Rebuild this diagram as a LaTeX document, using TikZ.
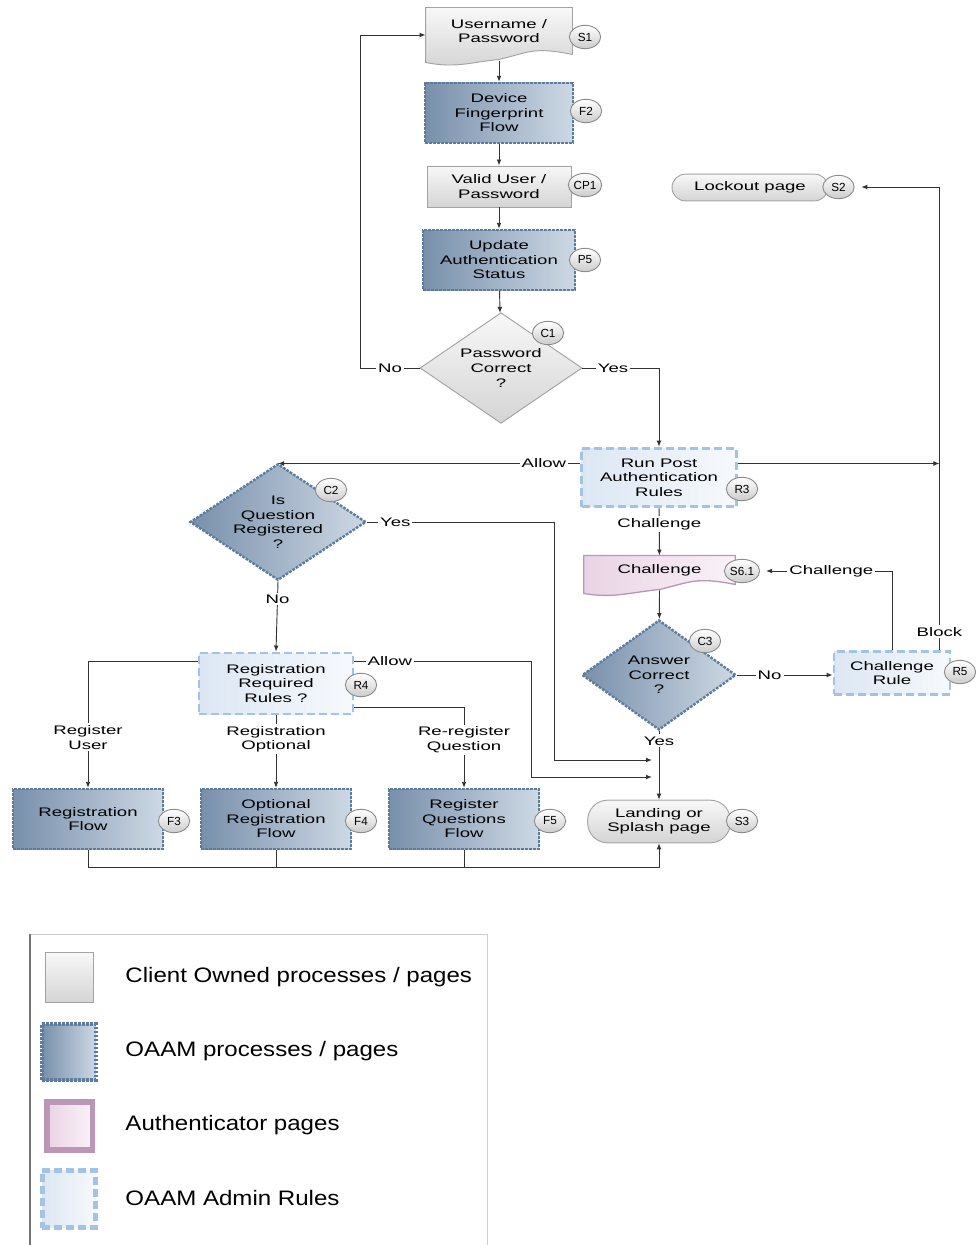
\documentclass[tikz,border=0pt]{standalone}
\usepackage{fontspec}
\setmainfont{Liberation Sans}[FakeStretch=1.5]
\newfontfamily\tagfont{Liberation Sans}[FakeStretch=1.0]
\newfontfamily\legendfont{Liberation Sans}[FakeStretch=1.15]
\usetikzlibrary{calc}
\usetikzlibrary{arrows.meta}
\usetikzlibrary{shapes.geometric}
\usetikzlibrary{backgrounds}

\definecolor{clientedge}{HTML}{A3A3A3}
\definecolor{clienttop}{HTML}{F8F8F8}
\definecolor{clientbot}{HTML}{D4D4D4}
\definecolor{oaamedge}{HTML}{5C7C9E}
\definecolor{oaamdark}{HTML}{7890AB}
\definecolor{oaamlight}{HTML}{CDD8E4}
\definecolor{adminedge}{HTML}{A2C3E4}
\definecolor{admindark}{HTML}{DCE7F3}
\definecolor{adminlight}{HTML}{F6F9FC}
\definecolor{authedge}{HTML}{BC96B7}
\definecolor{authdark}{HTML}{E9D3E4}
\definecolor{authlight}{HTML}{FAF2F8}
\definecolor{tagedge}{HTML}{8C8C8C}
\definecolor{wire}{HTML}{333333}

\begin{document}
\begin{tikzpicture}[x=0.75pt, y=-0.75pt,
    >={Latex[length=4.5pt,width=3.6pt]},
    font=\fontsize{9.3}{10.9}\selectfont,
    every path/.append style={line width=0.7pt},
    box/.style={rectangle, inner sep=2pt, align=center},
    decision/.style={diamond, aspect=1.5, inner sep=1pt, align=center},
    clientfill/.style={draw=clientedge, top color=clienttop, bottom color=clientbot},
    oaamfill/.style={draw=oaamedge, line width=1.8pt, dash pattern=on 2pt off 1pt,
      left color=oaamdark, right color=oaamlight},
    adminfill/.style={draw=adminedge, line width=2.2pt, dash pattern=on 6pt off 3pt,
      left color=admindark, right color=adminlight},
    authfill/.style={draw=authedge, line width=1pt, left color=authdark, right color=authlight},
    client/.style={box, clientfill},
    oaam/.style={box, oaamfill},
    admin/.style={box, adminfill},
    page/.style={box, clientfill, rounded corners=10pt},
    tag/.style={ellipse, draw=tagedge, top color=white, bottom color=black!20,
      font=\tagfont\fontsize{8.8}{9}\selectfont, inner sep=0.3pt,
      minimum width=23.5pt, minimum height=17.5pt},
    lbl/.style={fill=white, inner sep=1.5pt, align=center},
    legend/.style={anchor=west, inner sep=0pt,
      font=\legendfont\fontsize{15.7}{18}\selectfont},
  ]
  \useasboundingbox (0,0) rectangle (975,1245);

  \node[box, minimum width=109.5pt, minimum height=34.5pt] (s1) at (499,31) {Username /\\Password};
  \node[oaam, minimum width=111pt, minimum height=45pt] (f2) at (499,113) {Device\\Fingerprint\\Flow};
  \node[client, minimum width=108pt, minimum height=30.75pt] (cp1) at (499,186.5) {Valid User /\\Password};
  \node[oaam, minimum width=114pt, minimum height=45pt] (p5) at (499,260) {Update\\Authentication\\Status};
  \node[decision, clientfill, minimum width=121.5pt, minimum height=83pt] (c1) at (501,368) {Password\\Correct\\?};

  \node[admin, minimum width=116pt, minimum height=44pt] (r3) at (659,477.5) {Run Post\\Authentication\\Rules};
  \node[page, minimum width=117pt, minimum height=20pt] (s2) at (750,187.5) {Lockout page};
  \node[box, minimum width=113pt, minimum height=21pt] (s61) at (659.5,570) {Challenge};
  \node[decision, oaamfill, minimum width=115.5pt, minimum height=82.5pt] (c3) at (659,675) {Answer\\Correct\\?};
  \node[admin, minimum width=87pt, minimum height=32pt] (r5) at (892,673) {Challenge\\Rule};
  \node[page, rounded corners=15pt, minimum width=107pt, minimum height=32pt] (s3) at (659,821.5) {Landing or\\Splash page};

  \node[decision, oaamfill, minimum width=132pt, minimum height=85.5pt] (c2) at (278,522) {Is\\Question\\Registered\\?};
  \node[admin, minimum width=115.5pt, minimum height=45.75pt] (r4) at (276,683.5) {Registration\\Required\\Rules ?};
  \node[oaam, minimum width=112.5pt, minimum height=45pt] (f3) at (88,819) {Registration\\Flow};
  \node[oaam, minimum width=112.5pt, minimum height=45pt] (f4) at (276,819) {Optional\\Registration\\Flow};
  \node[oaam, minimum width=112.5pt, minimum height=45pt] (f5) at (464,819) {Register\\Questions\\Flow};

  \begin{scope}[on background layer]
    \draw[clientfill] (s1.north west) -- (s1.north east) -- (s1.south east)
      .. controls ($(s1.south east)+(-40,-8)$) and ($(s1.south)+(30,-2)$) .. ($(s1.south)+(0,5)$)
      .. controls ($(s1.south)+(-30,8)$) and ($(s1.south west)+(30,14)$) .. ($(s1.south west)+(0,8)$)
      -- cycle;
    \draw[authfill] (s61.north west) -- (s61.north east) -- (s61.south east)
      .. controls ($(s61.south east)+(-40,-8)$) and ($(s61.south)+(30,-2)$) .. ($(s61.south)+(0,5)$)
      .. controls ($(s61.south)+(-30,8)$) and ($(s61.south west)+(30,14)$) .. ($(s61.south west)+(0,9)$)
      -- cycle;
  \end{scope}

  \node[tag] (s1-tag) at (585,37) {S1};
  \node[tag] (f2-tag) at (586,111) {F2};
  \node[tag] (cp1-tag) at (585,185) {CP1};
  \node[tag] (p5-tag) at (585,260) {P5};
  \node[tag] (c1-tag) at (548,333) {C1};
  \node[tag] (s2-tag) at (838.5,187) {S2};
  \node[tag] (r3-tag) at (742,489) {R3};
  \node[tag] (s61-tag) at (742,571) {S6.1};
  \node[tag] (c3-tag) at (705,641) {C3};
  \node[tag] (r5-tag) at (960,672) {R5};
  \node[tag] (s3-tag) at (742,821) {S3};
  \node[tag] (c2-tag) at (331,490) {C2};
  \node[tag] (r4-tag) at (361,685) {R4};
  \node[tag] (f3-tag) at (174,821) {F3};
  \node[tag] (f4-tag) at (361,821) {F4};
  \node[tag] (f5-tag) at (550,821) {F5};

  \coordinate (r3-w) at ([yshift=10.5pt]r3.west);
  \coordinate (r3-e) at ([yshift=10.5pt]r3.east);
  \coordinate (blk) at ([xshift=-9pt]r5.north east);
  \coordinate (j1) at (652,760);
  \coordinate (j2) at (652,777);
  \coordinate (bot) at (88,867);

  \begin{scope}[draw=wire]
  \draw[->] ([yshift=-5pt]s1.south) -- (f2);
  \draw[->] (f2) -- (cp1);
  \draw[->] (cp1) -- (p5);
  \draw[->] (p5) -- (c1);
  \draw[->] (c1.west) -- node[lbl] (no1) {No} ++(-59,0) |- ([yshift=-3pt]s1.west);
  \draw[->] (c1.east) -| node[lbl, pos=0.2] (yes1) {Yes} (r3.north);

  \draw[->] (r3-w) -- node[lbl, pos=0.12] (allow1) {Allow} (c2.north |- r3-w);
  \draw[->] (r3-e) -- (r3-e -| blk);
  \draw[->, shorten >=5pt] (blk) |- node[lbl, pos=0.02] (block1) {Block} (s2-tag.east);
  \draw[->] (r3) -- node[lbl, pos=0.33] (chal1) {Challenge} (s61);
  \draw[->] ([yshift=-4.5pt]s61.south) -- (c3);
  \draw[->] (c3.east) -- node[lbl, pos=0.34] (no2) {No} (r5.west |- c3.east);
  \draw[->, shorten >=4.5pt] (r5.north) |- node[lbl, pos=0.73] (chal2) {Challenge} (s61-tag.east);
  \draw[->] (c3.south) -- node[lbl, pos=0.14] (yes2) {Yes} (s3.north);

  \draw[->] (c2.east) -- node[lbl, pos=0.15] (yes3) {Yes} ++(187,0) |- (j1);
  \draw[->] (c2.south) -- node[lbl, pos=0.25] (no3) {No} (r4.north);
  \draw[->] ([yshift=-7.5pt]r4.north east) -- node[lbl, pos=0.2] (allow2) {Allow} ++(177,0) |- (j2);
  \draw[->] ([yshift=-7.5pt]r4.north west) -| node[lbl, pos=0.8] (reg1) {Register\\User} (f3.north);
  \draw[->] (r4) -- node[lbl, pos=0.33] (reg2) {Registration\\Optional} (f4);
  \draw[->] ([yshift=6pt]r4.south east) -| node[lbl, pos=0.7] (reg3) {Re-register\\Question} (f5.north);

  \draw[->] (f3.south) -- (f3.south |- bot) -| (s3.south);
  \draw (f4.south) -- (f4.south |- bot);
  \draw (f5.south) -- (f5.south |- bot);
  \end{scope}

  \draw[black!20] (487,1245) -- (487,934) -- (30,934);
  \draw[black!55, line width=1pt] (30,934) -- (30,1245);
  \node[client, minimum width=36pt, minimum height=38pt] (key-1) at (69,977.5) {};
  \node[legend] (key-1-text) at (125,977) {Client Owned processes / pages};
  \node[oaam, line width=3pt, minimum width=40pt, minimum height=42pt] (key-2) at (69,1052) {};
  \node[legend] (key-2-text) at (125,1051) {OAAM processes / pages};
  \node[box, authfill, line width=4pt, minimum width=34pt, minimum height=36pt] (key-3) at (69.5,1126) {};
  \node[legend] (key-3-text) at (125,1125) {Authenticator pages};
  \node[admin, line width=3.5pt, minimum width=40pt, minimum height=43pt] (key-4) at (69,1199) {};
  \node[legend] (key-4-text) at (125,1198) {OAAM Admin Rules};
\end{tikzpicture}
\end{document}
